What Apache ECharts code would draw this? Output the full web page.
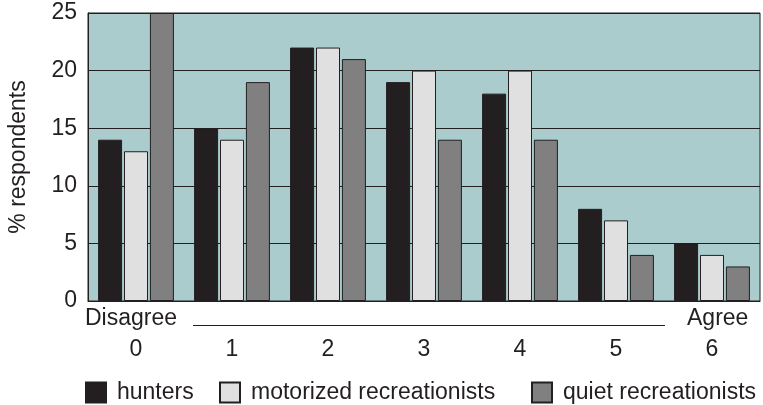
<!DOCTYPE html>
<html>
<head>
<meta charset="utf-8">
<script src="https://cdn.jsdelivr.net/npm/echarts@6/dist/echarts.min.js"></script>
<style>
  html, body { margin: 0; padding: 0; background: #fff; }
  #chart { width: 763px; height: 405px; }
</style>
</head>
<body>
<div id="chart"></div>
<script>
const categories = ['0', '1', '2', '3', '4', '5', '6'];
const seriesNames = ['hunters', 'motorized recreationists', 'quiet recreationists'];
const hunters = [14, 15, 22, 19, 18, 8, 5];
const motorized = [13, 14, 22, 20, 20, 7, 4];
const quiet = [25, 19, 21, 14, 14, 4, 3];
const yTicks = [0, 5, 10, 15, 20, 25];
const colors = ['#231f20', '#e0e0e0', '#808080'];

const font = 'Liberation Sans, Arial, sans-serif';
const textColor = '#231f20';

var chart = echarts.init(document.getElementById('chart'));

function makeSeries(name, data, color) {
    return {
        name: name,
        type: 'bar',
        data: data,
        barWidth: 24,
        barGap: '8%',
        itemStyle: { color: color, borderColor: '#231f20', borderWidth: 1 },
        emphasis: { disabled: true }
    };
}

function makeLegend(name, left) {
    return {
        data: [name],
        left: left,
        top: 381,
        padding: 0,
        itemWidth: 20,
        itemHeight: 20,
        icon: 'rect',
        textStyle: { fontSize: 23, color: textColor, fontFamily: font, padding: [0, 0, 0, 6] }
    };
}

var option = {
    animation: false,
    textStyle: { fontFamily: font },
    grid: {
        left: 88, right: 3, top: 13, bottom: 104,
        containLabel: false,
        outerBoundsMode: 'none',
        show: true,
        backgroundColor: '#aacccc',
        borderColor: '#231f20',
        borderWidth: 1
    },
    legend: [
        makeLegend(seriesNames[0], 85),
        makeLegend(seriesNames[1], 219),
        makeLegend(seriesNames[2], 531)
    ],
    xAxis: {
        type: 'category',
        data: categories,
        axisLine: { lineStyle: { color: '#231f20', width: 1 } },
        axisTick: { inside: true, length: 4, lineStyle: { color: '#231f20' } },
        axisLabel: { fontSize: 23, color: textColor, margin: 37, fontFamily: font }
    },
    yAxis: {
        type: 'value',
        min: yTicks[0],
        max: yTicks[yTicks.length - 1],
        interval: 5,
        name: '% respondents',
        nameLocation: 'middle',
        nameRotate: 90,
        nameGap: 58,
        nameTextStyle: { fontSize: 23, color: textColor, fontFamily: font },
        axisLine: { show: true, lineStyle: { color: '#231f20' } },
        axisTick: { show: true, inside: true, length: 3, lineStyle: { color: '#231f20' } },
        splitLine: { lineStyle: { color: '#231f20', width: 1 } },
        axisLabel: { fontSize: 23, color: textColor, margin: 11, fontFamily: font }
    },
    graphic: [
        {
            type: 'text', left: 85, top: 307,
            style: { text: 'Disagree', fontSize: 23, fill: textColor, fontFamily: font }
        },
        {
            type: 'text', left: 687, top: 307,
            style: { text: 'Agree', fontSize: 23, fill: textColor, fontFamily: font }
        },
        {
            type: 'line',
            shape: { x1: 193, y1: 325.5, x2: 665, y2: 325.5 },
            style: { stroke: '#231f20', lineWidth: 1 }
        }
    ],
    series: [
        makeSeries(seriesNames[0], hunters, colors[0]),
        makeSeries(seriesNames[1], motorized, colors[1]),
        makeSeries(seriesNames[2], quiet, colors[2])
    ]
};

chart.setOption(option);
</script>
</body>
</html>
